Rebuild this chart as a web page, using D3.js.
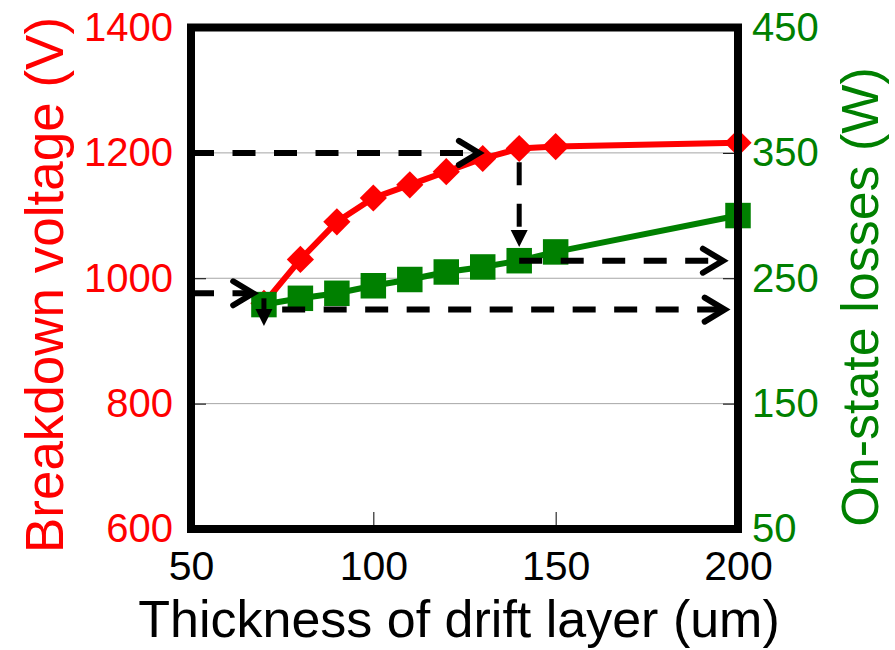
<!DOCTYPE html>
<html>
<head>
<meta charset="utf-8">
<script src="https://cdn.jsdelivr.net/npm/d3@7"></script>
<style>
  body { margin: 0; background: #fff; }
  svg { display: block; font-family: "Liberation Sans", Arial, sans-serif; }
</style>
</head>
<body>
<script>
// drift layer thickness (um) and the two measured series
let thickness  = [70, 80, 90, 100, 110, 120, 130, 140, 150, 200];
let breakdownV = [960, 1030, 1090, 1128, 1149, 1170, 1191, 1207, 1210, 1216];
let onLosses   = [229, 234, 238, 244, 249, 255, 259, 264, 271, 300];

let xTicks     = [50, 100, 150, 200];
let leftTicks  = [600, 800, 1000, 1200, 1400];
let rightTicks = [50, 150, 250, 350, 450];

// dashed guide arrows, in data units (axis tells which y scale)
let guides = [
    {x1: 50,  y1: 1200, x2: 129.5, y2: 1200, axis: "left",  head: "open"},
    {x1: 140, y1: 1185, x2: 140,   y2: 1050, axis: "left",  head: "solid"},
    {x1: 140, y1: 264,  x2: 196.4, y2: 264,  axis: "right", head: "open"},
    {x1: 50,  y1: 976,  x2: 67.6,  y2: 976,  axis: "left",  head: "open"},
    {x1: 70,  y1: 234,  x2: 70,    y2: 212,  axis: "right", head: "solid"},
    {x1: 75,  y1: 225,  x2: 196.9, y2: 225,  axis: "right", head: "open"}
];

let margin = {top: 27.5, right: 157, bottom: 121, left: 191},
    width = 895 - margin.left - margin.right,
    height = 650 - margin.top - margin.bottom;

let red = "#ff0000", green = "#008000";

let svg = d3.select("body")
    .append("svg")
    .attr("width", 895)
    .attr("height", 650);

let g = svg.append("g")
    .attr("transform", `translate(${margin.left}, ${margin.top})`);

let xScaler = d3.scaleLinear().domain([50, 200]).range([0, width]);
let yLeft   = d3.scaleLinear().domain([600, 1400]).range([height, 0]);
let yRight  = d3.scaleLinear().domain([50, 450]).range([height, 0]);

// gridlines
g.selectAll(".grid")
    .data([800, 1000, 1200])
    .enter()
    .append("line")
        .attr("x1", 0)
        .attr("x2", width)
        .attr("y1", d => yLeft(d))
        .attr("y2", d => yLeft(d))
        .style("stroke", "#a6a6a6")
        .style("stroke-width", 1);

// axes (ticks pointing inward)
let xAxis = g.append("g")
    .attr("transform", `translate(0, ${height})`)
    .call(d3.axisBottom(xScaler).tickValues(xTicks).tickFormat(d3.format("d"))
        .tickSize(-17).tickPadding(22));

let lAxis = g.append("g")
    .call(d3.axisLeft(yLeft).tickValues(leftTicks).tickFormat(d3.format("d"))
        .tickSize(-15).tickPadding(18));

let rAxis = g.append("g")
    .attr("transform", `translate(${width}, 0)`)
    .call(d3.axisRight(yRight).tickValues(rightTicks).tickFormat(d3.format("d"))
        .tickSize(-15).tickPadding(14));

[xAxis, lAxis, rAxis].forEach(a => {
    a.select(".domain").remove();
    a.selectAll("text").style("font-size", "40px").style("font-family", "inherit");
    a.selectAll("line").style("stroke", "#000");
});
xAxis.selectAll("text").style("font-size", "41px");
lAxis.selectAll("text").style("fill", red);
rAxis.selectAll("text").style("fill", green);
xAxis.selectAll("text").style("fill", "#000");

// breakdown voltage series
g.append("path")
    .datum(thickness.map((t, i) => [t, breakdownV[i]]))
    .attr("d", d3.line().x(d => xScaler(d[0])).y(d => yLeft(d[1])))
    .style("fill", "none")
    .style("stroke", red)
    .style("stroke-width", 6);

g.selectAll(".diamond")
    .data(thickness.map((t, i) => [t, breakdownV[i]]))
    .enter()
    .append("path")
        .attr("d", d3.symbol(d3.symbolSquare, 370))
        .attr("transform", d => `translate(${xScaler(d[0])}, ${yLeft(d[1])}) rotate(45)`)
        .style("fill", red);

// on-state losses series
g.append("path")
    .datum(thickness.map((t, i) => [t, onLosses[i]]))
    .attr("d", d3.line().x(d => xScaler(d[0])).y(d => yRight(d[1])))
    .style("fill", "none")
    .style("stroke", green)
    .style("stroke-width", 6);

g.selectAll(".square")
    .data(thickness.map((t, i) => [t, onLosses[i]]))
    .enter()
    .append("path")
        .attr("d", d3.symbol(d3.symbolSquare, 650))
        .attr("transform", d => `translate(${xScaler(d[0])}, ${yRight(d[1])})`)
        .style("fill", green);

// dashed arrows
guides.forEach(a => {
    let ys = a.axis === "left" ? yLeft : yRight;
    let x1 = xScaler(a.x1), y1 = ys(a.y1), x2 = xScaler(a.x2), y2 = ys(a.y2);
    let ang = Math.atan2(y2 - y1, x2 - x1);
    let ag = g.append("g").attr("transform", `translate(${x2}, ${y2}) rotate(${ang * 180 / Math.PI})`);
    let len = Math.hypot(x2 - x1, y2 - y1);

    if (a.head === "open") {
        ag.append("line")
            .attr("x1", -len).attr("x2", -3).attr("y1", 0).attr("y2", 0)
            .style("stroke", "#000").style("stroke-width", 6)
            .style("stroke-dasharray", "23,18.5");
        ag.append("path")
            .attr("d", "M-22,-12L-2,0L-22,12")
            .style("fill", "none").style("stroke", "#000")
            .style("stroke-width", 6).style("stroke-linecap", "round")
            .style("stroke-linejoin", "miter");
    } else {
        ag.append("line")
            .attr("x1", -len).attr("x2", -14).attr("y1", 0).attr("y2", 0)
            .style("stroke", "#000").style("stroke-width", 5)
            .style("stroke-dasharray", "23,18.5");
        ag.append("path")
            .attr("d", "M0,0L-17,-8.5L-17,8.5Z")
            .style("fill", "#000");
    }
});

// frame
g.append("rect")
    .attr("width", width)
    .attr("height", height)
    .style("fill", "none")
    .style("stroke", "#000")
    .style("stroke-width", 8);

// axis titles
svg.append("text")
    .attr("transform", `translate(63, 285) rotate(-90)`)
    .attr("text-anchor", "middle")
    .style("font-size", "53px")
    .style("fill", red)
    .text("Breakdown voltage (V)");

svg.append("text")
    .attr("transform", `translate(878, 297) rotate(-90)`)
    .attr("text-anchor", "middle")
    .style("font-size", "52px")
    .style("fill", green)
    .text("On-state losses (W)");

svg.append("text")
    .attr("x", 459)
    .attr("y", 637)
    .attr("text-anchor", "middle")
    .style("font-size", "52px")
    .style("fill", "#000")
    .text("Thickness of drift layer (um)");
</script>
</body>
</html>
